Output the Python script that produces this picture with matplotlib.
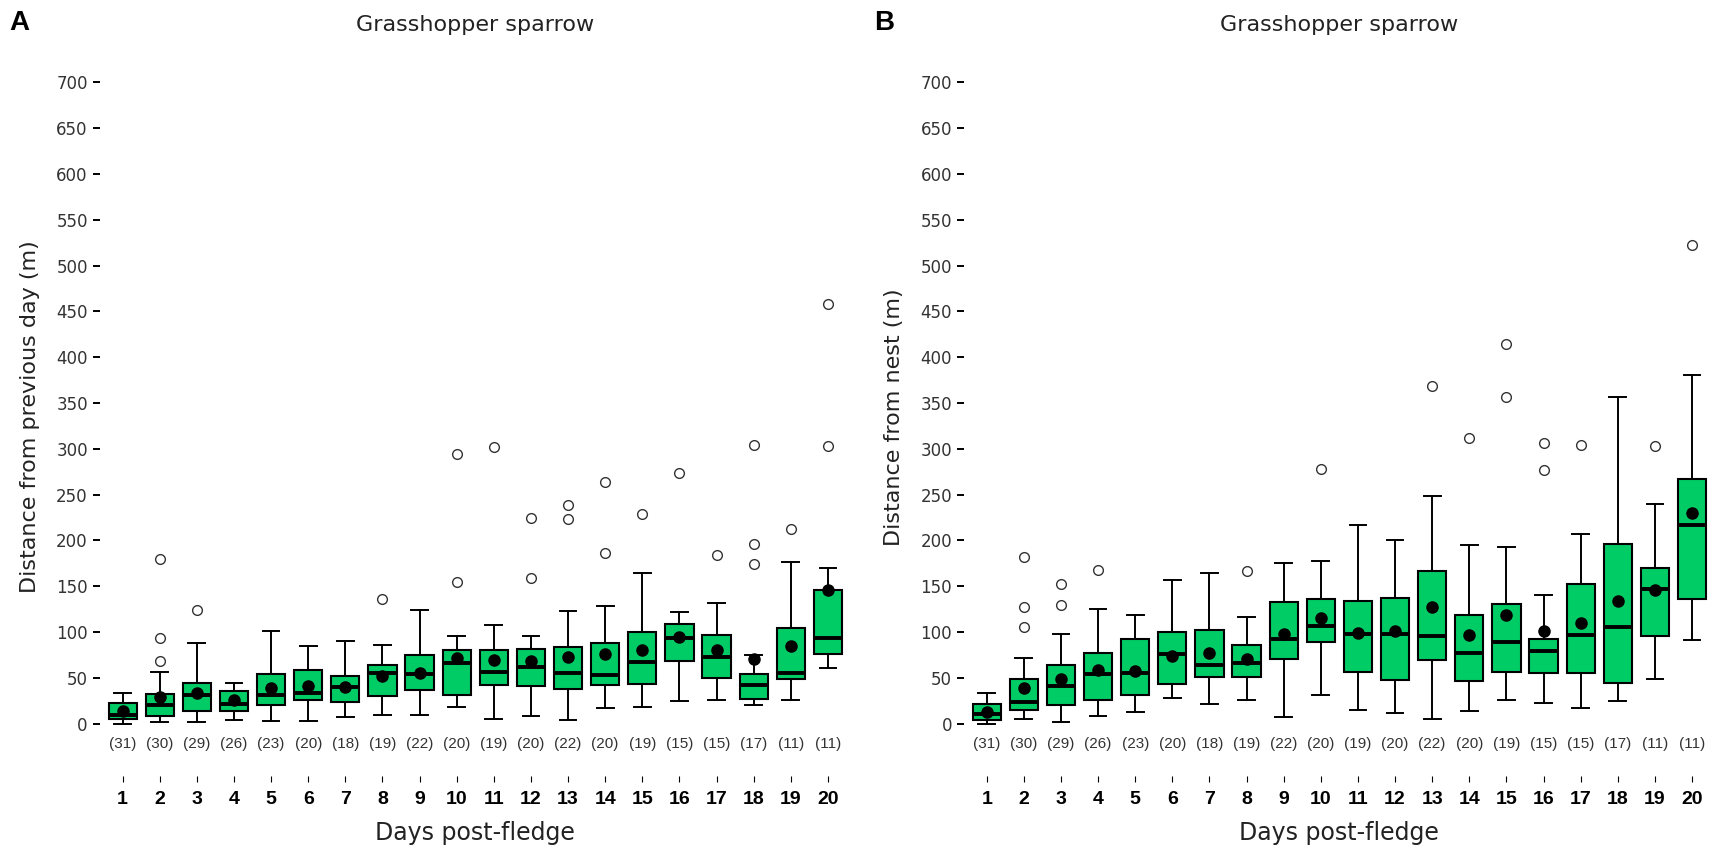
import matplotlib.pyplot as plt

days = list(range(1, 21))
n_birds = [31, 30, 29, 26, 23, 20, 18, 19, 22, 20, 19, 20, 22, 20, 19, 15, 15, 17, 11, 11]

# panel A: distance from previous day (m)
prev_med = [10, 20, 31, 22, 31, 34, 40, 55, 54, 66, 56, 62, 55, 53, 67, 94, 73, 42, 55, 94]
prev_q1 = [5, 9, 14, 14, 20, 26, 24, 30, 37, 31, 42, 41, 38, 42, 43, 68, 50, 27, 49, 76]
prev_q3 = [23, 32, 44, 36, 54, 59, 52, 64, 75, 80, 81, 82, 84, 88, 100, 109, 97, 54, 105, 146]
prev_lo = [0, 2, 2, 4, 3, 3, 7, 10, 10, 18, 5, 8, 4, 17, 18, 25, 26, 21, 26, 61]
prev_hi = [34, 57, 88, 45, 101, 85, 90, 86, 124, 96, 108, 96, 123, 128, 165, 122, 132, 75, 176, 170]
prev_mean = [14, 29, 34, 26, 39, 41, 40, 52, 55, 72, 70, 69, 73, 76, 81, 95, 80, 71, 85, 146]
prev_out = [[], [180, 94, 68], [124], [], [], [], [], [136], [], [294, 155], [302],
            [225, 159], [239, 223], [264, 186], [229], [274], [184], [304, 196, 174],
            [212], [458, 303]]

# panel B: distance from nest (m)
nest_med = [11, 24, 41, 54, 55, 76, 64, 66, 93, 107, 98, 98, 96, 77, 89, 79, 97, 106, 147, 217]
nest_q1 = [4, 15, 21, 26, 31, 43, 51, 51, 71, 89, 56, 48, 70, 47, 56, 55, 55, 44, 96, 136]
nest_q3 = [22, 49, 64, 77, 92, 100, 102, 86, 133, 136, 134, 137, 167, 119, 131, 93, 152, 196, 170, 267]
nest_lo = [0, 5, 2, 9, 13, 28, 22, 26, 7, 31, 15, 12, 5, 14, 26, 23, 17, 25, 49, 91]
nest_hi = [34, 72, 98, 125, 119, 157, 165, 116, 175, 178, 217, 201, 248, 195, 193, 140, 207, 356, 240, 381]
nest_mean = [13, 39, 49, 59, 58, 74, 77, 71, 98, 115, 99, 101, 127, 97, 119, 101, 110, 134, 146, 230]
nest_out = [[], [182, 127, 106], [152, 130], [168], [], [], [], [167], [], [278], [], [],
            [368], [312], [414, 356], [306, 277], [304], [], [303], [522]]

GREEN = '#00CC66'


def draw_panel(ax, med, q1, q3, lo, hi, mean, out, ylabel, letter, letter_x):
    stats = []
    for i in range(len(days)):
        stats.append(dict(med=med[i], q1=q1[i], q3=q3[i], whislo=lo[i], whishi=hi[i],
                          mean=mean[i], fliers=out[i]))
    ax.bxp(stats, positions=days, widths=0.76, capwidths=0.45, patch_artist=True,
           showmeans=True,
           boxprops=dict(facecolor=GREEN, edgecolor='black', linewidth=1.5, zorder=3),
           medianprops=dict(color='black', linewidth=2.8, solid_capstyle='butt', zorder=4),
           whiskerprops=dict(color='black', linewidth=1.4, zorder=2),
           capprops=dict(color='black', linewidth=1.4, zorder=2),
           meanprops=dict(marker='o', markerfacecolor='black', markeredgecolor='black',
                          markersize=8, zorder=5),
           flierprops=dict(marker='o', markerfacecolor='none', markeredgecolor='#333333',
                           markersize=7, markeredgewidth=1.0))

    # sample sizes under each box
    for d, n in zip(days, n_birds):
        ax.text(d, -22, f"({n})", ha='center', va='center', fontsize=11,
                family='Liberation Sans', color='#333333')

    ax.set_xlim(0.4, 20.6)
    ax.set_ylim(-57, 736)
    ax.set_yticks(range(0, 701, 50))
    ax.set_xticks(days)
    ax.set_xticklabels([str(d) for d in days], fontsize=14, fontweight='bold',
                       family='Liberation Sans')
    ax.tick_params(axis='y', length=5, width=1.4, pad=4, labelsize=12, labelcolor='#333333')
    ax.tick_params(axis='x', length=4, width=0.8, pad=7)
    for s in ax.spines.values():
        s.set_visible(False)

    ax.set_ylabel(ylabel, fontsize=16, color='#222222')
    ax.yaxis.set_label_coords(-0.08, 0.494)
    ax.set_xlabel('Days post-fledge', fontsize=17, color='#222222')
    ax.xaxis.set_label_coords(0.5, -0.062)
    ax.text(0.5, 1.033, 'Grasshopper sparrow', transform=ax.transAxes, ha='center',
            va='center', fontsize=16, color='#222222')
    ax.figure.text(letter_x, 1 - 23 / 849, letter, fontsize=20, fontweight='bold',
                   family='Liberation Sans', va='center', ha='left')


fig = plt.figure(figsize=(17.21, 8.49), dpi=100)
ax1 = fig.add_axes([0.0583, 0.0860, 0.4357, 0.8560])
ax2 = fig.add_axes([0.5604, 0.0860, 0.4357, 0.8560])

draw_panel(ax1, prev_med, prev_q1, prev_q3, prev_lo, prev_hi, prev_mean, prev_out,
           'Distance from previous day (m)', 'A', 9 / 1721)
draw_panel(ax2, nest_med, nest_q1, nest_q3, nest_lo, nest_hi, nest_mean, nest_out,
           'Distance from nest (m)', 'B', 874 / 1721)

fig.savefig('out.png', dpi=100)
